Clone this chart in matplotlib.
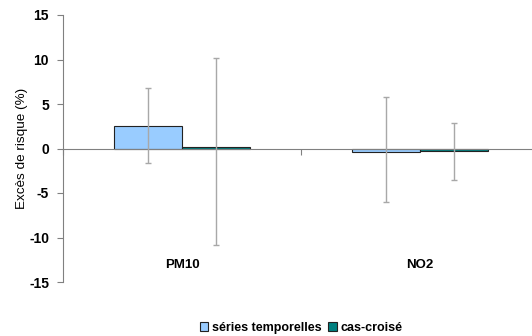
import matplotlib.pyplot as plt
import numpy as np

plt.rcParams['font.family'] = ['Liberation Sans', 'DejaVu Sans']
plt.rcParams['axes.unicode_minus'] = False

polluants = ['PM10', 'NO2']
series = ['séries temporelles', 'cas-croisé']
couleurs = ['#99CCFF', '#008080']

# valeurs
valeurs = [[2.5, -0.35], [0.15, -0.3]]
ic_bas = [[-1.6, -6.0], [-10.8, -3.5]]
ic_haut = [[6.85, 5.8], [10.2, 2.85]]

fig = plt.figure(figsize=(5.32, 3.36), dpi=100)
ax = fig.add_axes([63 / 532, 1 - 282 / 336, 476 / 532, 267 / 336])

x = np.arange(len(polluants))
w = 0.286
for i, s in enumerate(series):
    pos = x + (i - 0.5) * w
    v = np.array(valeurs[i])
    err = [v - np.array(ic_bas[i]), np.array(ic_haut[i]) - v]
    ax.bar(pos, v, w, color=couleurs[i], edgecolor='#222222', linewidth=0.8,
           label=s, zorder=2)
    ax.errorbar(pos, v, yerr=err, fmt='none', ecolor='#A8A8A8', elinewidth=1,
                capsize=2.5, capthick=1, zorder=3)

ax.set_xlim(-0.5, 1.5)
ax.set_ylim(-15, 15)
ax.set_yticks(range(-15, 16, 5))
ax.tick_params(axis='y', direction='out', length=4, color='#808080',
               labelsize=10, pad=6)
for t in ax.get_yticklabels():
    t.set_fontweight('bold')

ax.spines['top'].set_visible(False)
ax.spines['right'].set_visible(False)
ax.spines['left'].set_color('#808080')
ax.spines['bottom'].set_position(('data', 0))
ax.spines['bottom'].set_color('#808080')
ax.set_xticks([-0.5, 0.5, 1.5])
ax.set_xticklabels(['', '', ''])
ax.tick_params(axis='x', direction='out', length=4, color='#808080')

for xi, p in zip(x, polluants):
    ax.text(xi, -13.1, p, ha='center', va='center', fontsize=9.5, fontweight='bold')

ax.set_ylabel('Excès de risque (%)', fontsize=9.7)
ax.yaxis.set_label_coords(-(63 - 28) / 476, 0.5)

leg = fig.legend(loc='center', bbox_to_anchor=(301 / 532, 1 - 328 / 336), ncol=2,
                 frameon=False, fontsize=9, handlelength=0.7, handleheight=0.7,
                 handletextpad=0.3, columnspacing=0.5, borderpad=0)
for t in leg.get_texts():
    t.set_fontweight('bold')

fig.savefig('out.png', dpi=100)
